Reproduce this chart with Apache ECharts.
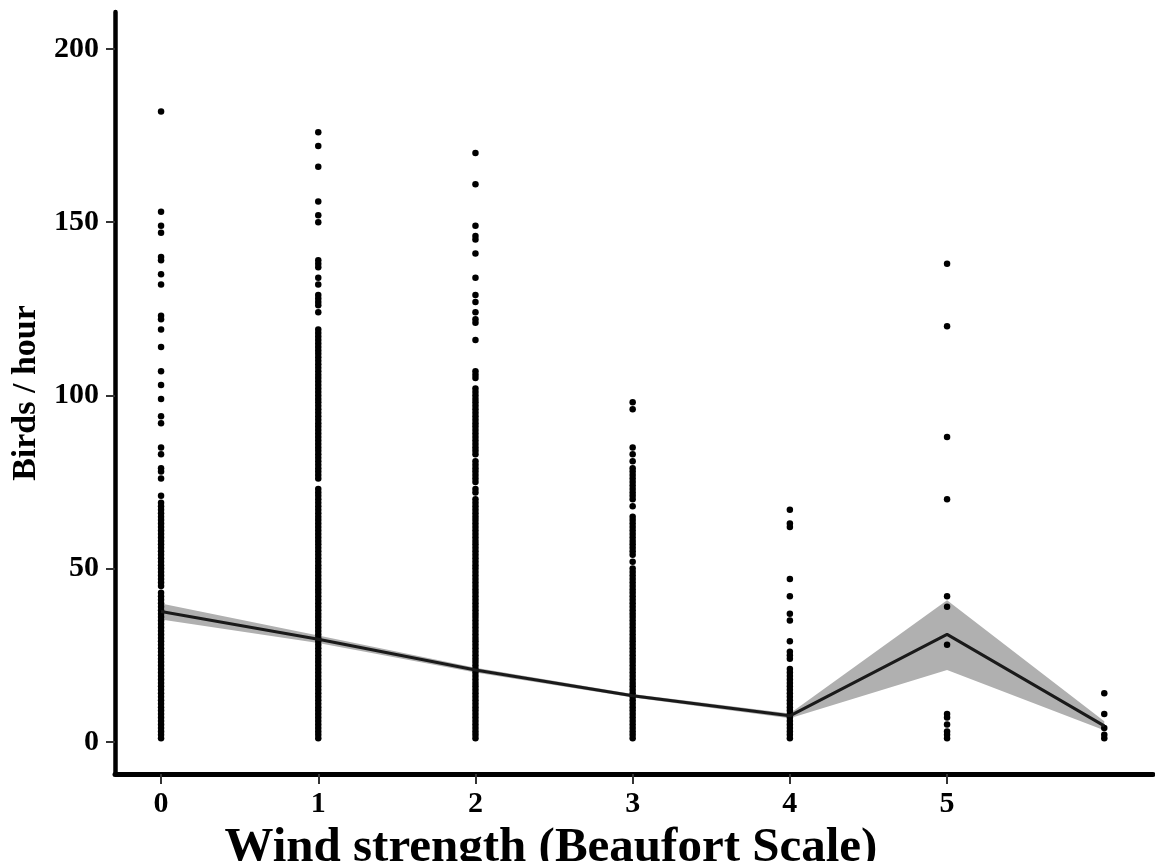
<!DOCTYPE html>
<html>
<head>
<meta charset="utf-8">
<script src="https://cdn.jsdelivr.net/npm/echarts@6/dist/echarts.min.js"></script>
<style>html,body{margin:0;padding:0;background:#fff}#c{width:1155px;height:861px}</style>
</head>
<body>
<div id="c"></div>
<script>
// Wind strength categories (Beaufort)
const windLevels = [0, 1, 2, 3, 4, 5, 6];
const xTickValues = [0, 1, 2, 3, 4, 5];
const yTickValues = [0, 50, 100, 150, 200];

// Observed birds/hour per wind level
const birds0 = [182,153,149,147,140,139,135,132,123,122,119,114,107,103,99,94,92,85,83,79,78,76,71,
  69,68,67,66,65,64,63,62,61,60,59,58,57,56,55,54,53,52,51,50,49,48,47,46,45,43,42,41,40,39,38,37,36,35,34,33,32,31,30,
  29,28,27,26,25,24,23,22,21,20,19,18,17,16,15,14,13,12,11,10,9,8,7,6,5,4,3,2,1];
const birds1 = [176,172,166,156,152,150,139,138,137,134,132,129,128,127,126,124,
  119,118,117,116,115,114,113,112,111,110,109,108,107,106,105,104,103,102,101,100,99,98,97,96,95,94,93,92,91,90,
  89,88,87,86,85,84,83,82,81,80,79,78,77,76,
  73,72,71,70,69,68,67,66,65,64,63,62,61,60,59,58,57,56,55,54,53,52,51,50,49,48,47,46,45,44,43,42,41,40,
  39,38,37,36,35,34,33,32,31,30,29,28,27,26,25,24,23,22,21,20,19,18,17,16,15,14,13,12,11,10,9,8,7,6,5,4,3,2,1];
const birds2 = [170,161,149,146,145,141,134,129,127,124,122,121,116,107,106,105,
  102,101,100,99,98,97,96,95,94,93,92,91,90,89,88,87,86,85,84,83,81,80,79,78,77,76,75,73,72,70,
  69,68,67,66,65,64,63,62,61,60,59,58,57,56,55,54,53,52,51,50,49,48,47,46,45,44,43,42,41,40,
  39,38,37,36,35,34,33,32,31,30,29,28,27,26,25,24,23,22,21,20,19,18,17,16,15,14,13,12,11,10,9,8,7,6,5,4,3,2,1];
const birds3 = [98,96,85,83,81,79,78,77,76,75,74,73,72,71,70,68,65,64,63,62,61,60,59,58,57,56,55,54,52,
  50,49,48,47,46,45,44,43,42,41,40,39,38,37,36,35,34,33,32,31,30,29,28,27,26,25,24,23,22,21,20,
  19,18,17,16,15,14,13,12,11,10,9,8,7,6,5,4,3,2,1];
const birds4 = [67,63,62,47,42,37,35,29,26,25,24,21,20,19,18,17,16,15,14,13,12,11,10,9,8,7,6,5,4,3,2,1];
const birds5 = [138,120,88,70,42,39,28,8,7,5,3,2,1];
const birds6 = [14,8,4,2,1];

// Fitted mean and confidence band
const fitMean  = [37.6, 29.6, 20.7, 13.3, 7.5, 31.0, 4.6];
const fitLower = [35.3, 28.5, 20.0, 12.8, 6.8, 20.7, 3.3];
const fitUpper = [39.9, 30.7, 21.4, 13.8, 8.2, 40.9, 5.9];

const birdsByLevel = [birds0, birds1, birds2, birds3, birds4, birds5, birds6];
const scatterData = [];
birdsByLevel.forEach((arr, i) => arr.forEach(v => scatterData.push([windLevels[i], v])));
const bandData = windLevels.map((x, i) => [x, fitLower[i], fitUpper[i]]);

const chart = echarts.init(document.getElementById('c'));
const font = 'Liberation Serif';
chart.setOption({
  animation: false,
  backgroundColor: '#ffffff',
  grid: { left: 115, right: 2, top: 12, bottom: 87, containLabel: false, outerBoundsMode: 'none' },
  xAxis: {
    type: 'value', min: -0.293, max: 6.31,
    name: 'Wind strength (Beaufort Scale)', nameLocation: 'middle', nameGap: 44,
    nameTextStyle: { fontFamily: font, fontWeight: 'bold', fontSize: 49, color: '#000', padding: [0, 166, 0, 0] },
    axisLine: { show: true, onZero: false, lineStyle: { color: '#000', width: 5, cap: 'round' } },
    axisTick: { show: true, customValues: xTickValues, length: 10, lineStyle: { color: '#333', width: 2 } },
    axisLabel: { customValues: xTickValues, margin: 15, fontFamily: font, fontWeight: 'bold', fontSize: 30, color: '#000' },
    splitLine: { show: false }
  },
  yAxis: {
    type: 'value', min: -9.3, max: 210.7,
    name: 'Birds / hour', nameLocation: 'middle', nameGap: 71, nameRotate: 90,
    nameTextStyle: { fontFamily: font, fontWeight: 'bold', fontSize: 34, color: '#000' },
    axisLine: { show: true, onZero: false, lineStyle: { color: '#000', width: 4.5, cap: 'round' } },
    axisTick: { show: true, customValues: yTickValues, length: 9, lineStyle: { color: '#333', width: 2 } },
    axisLabel: { customValues: yTickValues, margin: 16, fontFamily: font, fontWeight: 'bold', fontSize: 30, color: '#000' },
    splitLine: { show: false }
  },
  series: [
    { type: 'custom', data: bandData, encode: { x: 0, y: [1, 2] }, z: 1, silent: true,
      renderItem: function (params, api) {
        if (params.dataIndex !== 0) return null;
        const upper = bandData.map(d => api.coord([d[0], d[2]]));
        const lower = bandData.map(d => api.coord([d[0], d[1]])).reverse();
        return { type: 'polygon', shape: { points: upper.concat(lower) },
          style: { fill: '#b0b0b0', stroke: null } };
      } },
    { type: 'scatter', data: scatterData, symbolSize: 6.5,
      itemStyle: { color: '#000', opacity: 1 }, z: 2 },
    { type: 'line', data: windLevels.map((x, i) => [x, fitMean[i]]), symbol: 'none',
      lineStyle: { color: '#1a1a1a', width: 3 }, z: 3 }
  ]
});
</script>
</body>
</html>
